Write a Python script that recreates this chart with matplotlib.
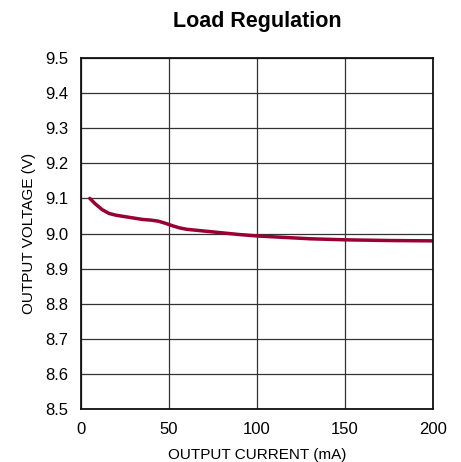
import matplotlib
matplotlib.use('Agg')
import matplotlib.pyplot as plt

current_ma = [5, 8, 12, 16, 20, 25, 30, 35, 40, 44, 48, 52, 56, 60, 70, 80, 90, 100, 115, 130, 150, 175, 200]
voltage_v = [9.100, 9.085, 9.068, 9.057, 9.052, 9.048, 9.044, 9.040, 9.038, 9.035, 9.029, 9.022, 9.016, 9.012,
             9.007, 9.002, 8.997, 8.993, 8.989, 8.985, 8.982, 8.980, 8.979]

x_ticks = [0, 50, 100, 150, 200]
y_ticks = [8.5, 8.6, 8.7, 8.8, 8.9, 9.0, 9.1, 9.2, 9.3, 9.4, 9.5]

plt.rcParams['font.family'] = ['Liberation Sans', 'DejaVu Sans']

fig = plt.figure(figsize=(4.61, 4.62), dpi=100)
ax = fig.add_axes([81 / 461, 1 - 409 / 462, 352 / 461, 351 / 462])

ax.plot(current_ma, voltage_v, color='#990033', linewidth=2.5, solid_capstyle='round')

ax.set_xlim(0, 200)
ax.set_ylim(8.5, 9.5)
ax.set_xticks(x_ticks)
ax.set_yticks(y_ticks)
ax.set_yticklabels(['%.1f' % v for v in y_ticks])
ax.grid(True, color='#333333', linewidth=0.9)
ax.tick_params(length=0, labelsize=12, pad=9)
for s in ax.spines.values():
    s.set_linewidth(1.3)
    s.set_color('#111111')

ax.set_xlabel('OUTPUT CURRENT (mA)', fontsize=11, labelpad=8)
ax.set_ylabel('OUTPUT VOLTAGE (V)', fontsize=11, labelpad=7)
fig.text(0.5 * (81 + 433) / 461, 1 - 21 / 462, 'Load Regulation', fontsize=15.5, fontweight='bold',
         ha='center', va='center')

fig.savefig('out.png', dpi=100)
